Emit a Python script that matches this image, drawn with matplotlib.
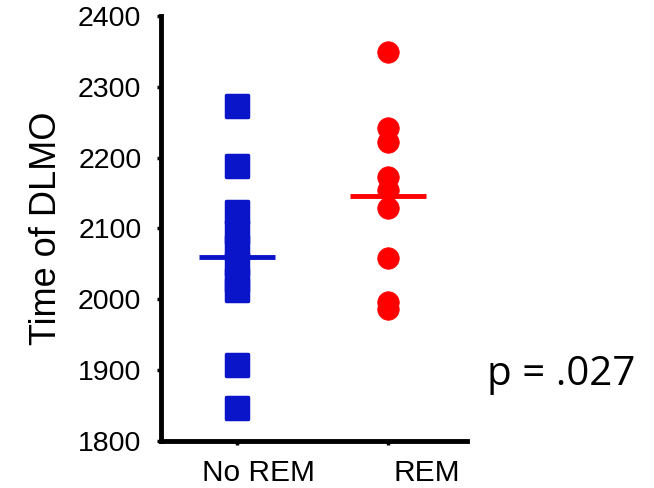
import numpy as np
import matplotlib
matplotlib.use("Agg")
import matplotlib.pyplot as plt
import matplotlib.transforms as mtransforms
from matplotlib.markers import MarkerStyle

categories = ["No REM", "REM"]
no_rem = [2273, 2188, 2123, 2095, 2074, 2050, 2027, 2013, 1907, 1847]
rem = [2349, 2242, 2222, 2173, 2154, 2129, 2058, 1996, 1986]
yticks = [1800, 1900, 2000, 2100, 2200, 2300, 2400]
p_text = "p = .027"

blue = "#0A14C8"
red = "#FF0000"

plt.rcParams['font.family'] = ['Liberation Sans', 'DejaVu Sans']

fig = plt.figure(figsize=(6.54, 4.88), dpi=100)
ax = fig.add_axes([0.246, 0.0963, 0.468, 0.871])

sq = MarkerStyle('s', joinstyle='round')
ax.plot([1] * len(no_rem), no_rem, linestyle='none', marker=sq, markersize=15.5,
        color=blue, mec=blue, mew=2.5)
ax.plot([2] * len(rem), rem, linestyle='none', marker='o', markersize=15.5,
        color=red, mec=red, mew=0.5)

hw = 0.25
ax.plot([1 - hw, 1 + hw], [np.mean(no_rem)] * 2, color=blue, lw=3.5, solid_capstyle='butt')
ax.plot([2 - hw, 2 + hw], [np.mean(rem)] * 2, color=red, lw=3.5, solid_capstyle='butt')

ax.set_xlim(0.5, 2.52)
ax.set_ylim(1800, 2400)
ax.set_yticks(yticks)
ax.set_xticks([1, 2])
ax.set_xticklabels(categories)

for s in ['top', 'right']:
    ax.spines[s].set_visible(False)
for s in ['left', 'bottom']:
    ax.spines[s].set_linewidth(3.5)
ax.tick_params(axis='y', length=3, width=2.5, pad=11, labelsize=20.5)
ax.tick_params(axis='x', length=3, width=2.5, pad=10, labelsize=21.5)

# shift x tick labels to match reference placement
offsets_px = [22, 39]
for lab, dx in zip(ax.get_xticklabels(), offsets_px):
    lab.set_transform(lab.get_transform() +
                      mtransforms.ScaledTranslation(dx / 100, 0, fig.dpi_scale_trans))

ax.set_ylabel("Time of DLMO", fontsize=26, labelpad=10)

fig.text(0.745, 0.232, p_text, fontsize=29, va='center', ha='left', family=['Open Sans', 'DejaVu Sans'])

fig.savefig("out.png", dpi=100)
